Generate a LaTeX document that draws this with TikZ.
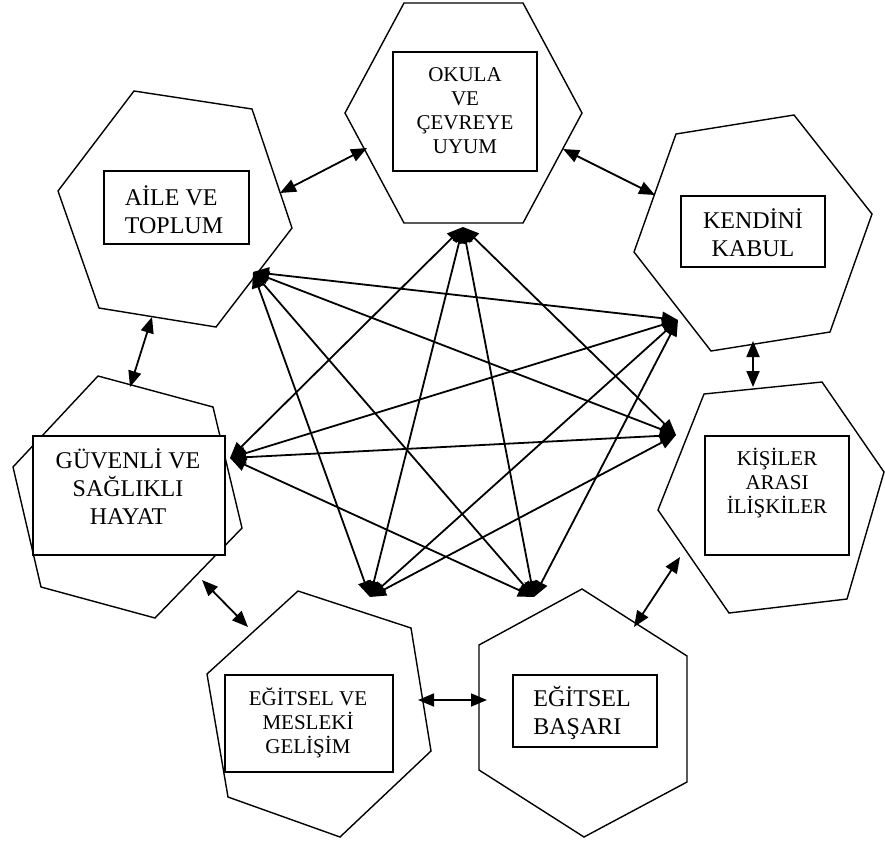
\documentclass[tikz,border=0pt]{standalone}
\usepackage{fontspec}
\setmainfont{Liberation Serif}
\usepackage{tikz}
\usetikzlibrary{arrows.meta}
\tikzset{ok/.style={line width=1.8pt, {Triangle[length=16pt,width=13pt]}-{Triangle[length=16pt,width=13pt]}}}
\tikzset{altigen/.style={line width=1.4pt, line join=miter}}
\tikzset{kutu/.style={draw, rectangle, line width=1.4pt, fill=white, inner sep=0pt}}
\tikzset{yazi/.style={align=center, inner sep=0pt, font=\fontsize{24}{28}\selectfont}}
\tikzset{yazik/.style={align=center, inner sep=0pt, font=\fontsize{21}{24}\selectfont}}

\begin{document}
\begin{tikzpicture}[x=1pt, y=-1pt]
    \useasboundingbox (0,0) rectangle (885,841);

    % altigenler
    \draw[altigen] (404,3) -- (523,3) -- (582,113) -- (523,223) -- (404,223) -- (345,113) -- cycle;
    \draw[altigen] (134,91) -- (252,109) -- (292,228) -- (216,327) -- (99,308) -- (58,191) -- cycle;
    \draw[altigen] (676,134) -- (794,115) -- (872,214) -- (830,332) -- (711,351) -- (634,252) -- cycle;
    \draw[altigen] (704,394) -- (822,382) -- (884,472) -- (847,599) -- (729,613) -- (658,510) -- cycle;
    \draw[altigen] (582,589) -- (687,656) -- (687,782) -- (584,837) -- (479,770) -- (479,645) -- cycle;
    \draw[altigen] (298,591) -- (411,628) -- (431,751) -- (340,837) -- (228,797) -- (207,674) -- cycle;
    \draw[altigen] (98,376) -- (213,407) -- (242,528) -- (155,618) -- (41,587) -- (13,467) -- cycle;

    % kutular
    \node[kutu, minimum width=145pt, minimum height=73pt] (aileK) at (176.5,207.5) {};
    \node[kutu, minimum width=144pt, minimum height=119pt] (okulaK) at (465,111.5) {};
    \node[kutu, minimum width=144pt, minimum height=71pt] (kendiniK) at (753,231.5) {};
    \node[kutu, minimum width=144pt, minimum height=119pt] (kisilerK) at (777,495.5) {};
    \node[kutu, minimum width=144pt, minimum height=72pt] (basariK) at (585,711) {};
    \node[kutu, minimum width=168pt, minimum height=97pt] (meslekiK) at (309,723.5) {};
    \node[kutu, minimum width=192pt, minimum height=119pt] (guvenliK) at (129,495.5) {};

    \node[yazi, align=left] (aile) at (174,210) {AİLE VE\\TOPLUM};
    \node[yazik] (okula) at (465,111) {OKULA\\VE\\ÇEVREYE\\UYUM};
    \node[yazi] (kendini) at (753,233) {KENDİNİ\\KABUL};
    \node[yazik] (kisiler) at (777,483) {KİŞİLER\\ARASI\\İLİŞKİLER};
    \node[yazi, align=left] (basari) at (582,713) {EĞİTSEL\\BAŞARI};
    \node[yazik] (mesleki) at (308,723) {EĞİTSEL VE\\MESLEKİ\\GELİŞİM};
    \node[yazi] (guvenli) at (128,487) {GÜVENLİ VE\\SAĞLIKLI\\HAYAT};

    % komsu oklar
    \coordinate (a1) at (280,193);  \coordinate (o1) at (367,148);
    \coordinate (o2) at (563,149);  \coordinate (k1) at (655,195);
    \coordinate (k2) at (753,341);  \coordinate (s1) at (753,387);
    \coordinate (s2) at (680,557);  \coordinate (b1) at (634,627);
    \coordinate (b2) at (487,700);  \coordinate (m1) at (418,700);
    \coordinate (m2) at (248,627);  \coordinate (g1) at (202,580);
    \coordinate (g2) at (130,387);  \coordinate (a2) at (152,317);

    \draw[ok] (a1) -- (o1);
    \draw[ok] (o2) -- (k1);
    \draw[ok] (k2) -- (s1);
    \draw[ok] (s2) -- (b1);
    \draw[ok] (b2) -- (m1);
    \draw[ok] (m2) -- (g1);
    \draw[ok] (g2) -- (a2);

    % ortadaki oklar
    \coordinate (T) at (463,227);
    \coordinate (A) at (253,272);
    \coordinate (K) at (678,320);
    \coordinate (S) at (676,435);
    \coordinate (G) at (230,458);
    \coordinate (M) at (370,597);
    \coordinate (B) at (534,597);

    \draw[ok] (T) -- (S);
    \draw[ok] (T) -- (B);
    \draw[ok] (T) -- (M);
    \draw[ok] (T) -- (G);
    \draw[ok] (A) -- (K);
    \draw[ok] (A) -- (S);
    \draw[ok] (A) -- (B);
    \draw[ok] (A) -- (M);
    \draw[ok] (K) -- (G);
    \draw[ok] (K) -- (M);
    \draw[ok] (K) -- (B);
    \draw[ok] (S) -- (G);
    \draw[ok] (S) -- (M);
    \draw[ok] (G) -- (B);
\end{tikzpicture}
\end{document}
